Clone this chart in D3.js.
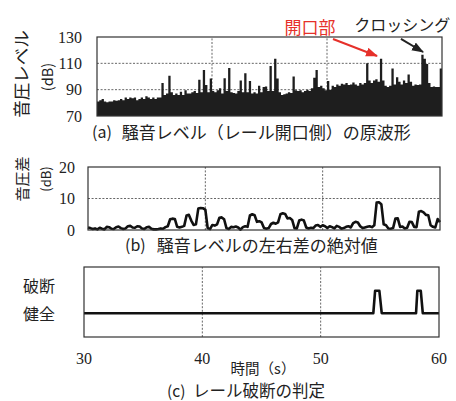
<!DOCTYPE html>
<html>
<head>
<meta charset="utf-8">
<script src="https://cdn.jsdelivr.net/npm/d3@7"></script>
<style>
  body { margin: 0; background: #fff; }
  text { fill: #222; }
</style>
</head>
<body>
<svg id="chart" width="456" height="401"></svg>
<script>
// sampling grid of the waveforms (s)
const T0 = 30, DT = 0.2;

// (a) noise level, rail opening side (dB), one value every 0.2 s from 30 s
const levelA = [
  81, 82, 83, 81, 80.5, 81, 81, 82, 81.5, 82,
  83, 82, 84, 83, 84, 83.5, 84, 82, 83, 84,
  83, 85, 84, 83, 84, 83, 84, 84, 95, 86,
  87, 100.5, 88, 86, 87, 86, 88.5, 86, 89.5, 87,
  87, 88, 89, 87.5, 97.5, 88, 105, 93.5, 88, 98.5,
  89, 88, 89.5, 91, 87, 98.7, 89, 106.5, 88, 87.5,
  87, 89, 97, 88, 102.5, 88, 96.5, 87, 88, 87,
  93, 88, 92, 92.5, 89, 108, 89, 113.5, 98.5, 88,
  86, 86.5, 87, 88, 87.5, 100, 89.5, 89, 89.5, 88,
  89, 90, 89, 91, 99, 105, 92, 93, 91, 89.5,
  96.5, 90, 93, 92, 94, 93, 94.5, 94, 95, 93.5,
  94, 95.5, 94, 93, 95, 94, 95, 110, 97, 95,
  97, 98, 96, 113.5, 97, 93, 92, 93, 106, 94,
  99.5, 96, 94, 97, 95, 101.5, 96, 93, 94, 93.5,
  94, 116.5, 113.5, 109.5, 95, 92, 92.5, 92, 92, 106,
  95
];

// (b) absolute left/right level difference (dB), same grid
const diffB = [
  0.8, 0.6, 0.3, 0.5, 0.2, 0.7, 0.4, 0.2, 1.0, 0.9,
  0.4, 0.3, 0.9, 1.1, 0.6, 0.3, 0.5, 1.2, 1.3, 0.8,
  0.7, 1.2, 1.1, 0.5, 0.3, 0.9, 1.0, 0.4, 0.2, 0.2,
  0.3, 0.5, 0.4, 0.9, 1.2, 3.4, 3.6, 3.5, 1.0, 0.8,
  1.0, 1.3, 4.6, 4.8, 3.0, 1.6, 1.8, 6.8, 7.0, 6.9,
  6.5, 0.6, 0.3, 1.6, 1.4, 1.8, 3.9, 4.0, 3.4, 0.6,
  0.3, 1.0, 0.9, 1.1, 0.8, 0.1, 0.9, 1.2, 1.0, 4.6,
  5.0, 4.7, 2.6, 2.8, 2.4, 0.6, 0.4, 0.6, 1.9, 2.3,
  2.0, 2.4, 5.0, 5.3, 5.1, 3.7, 3.8, 3.2, 0.6, 0.5,
  3.0, 3.3, 3.0, 0.8, 0.5, 0.7, 0.6, 1.4, 1.6, 1.0,
  1.5, 1.2, 0.6, 1.2, 0.9, 0.5, 1.3, 1.0, 0.4, 0.6,
  1.0, 1.2, 0.8, 2.2, 2.6, 2.4, 1.2, 0.6, 0.8, 1.0,
  1.2, 0.9, 1.5, 8.7, 8.8, 8.2, 1.8, 1.5, 0.5, 0.4,
  0.6, 3.6, 3.7, 1.0, 1.1, 0.5, 0.7, 2.6, 2.5, 1.0,
  0.9, 5.8, 6.0, 5.6, 4.8, 4.7, 1.5, 1.0, 0.8, 3.5,
  2.5
];

// (c) break judgement: 0 = 健全, 1 = 破断
const judgeT = [30, 54.45, 54.6, 54.96, 55.16, 58.06, 58.17, 58.46, 58.63, 60];
const judgeS = [0, 0, 1, 1, 0, 0, 1, 1, 0, 0];
const stateLabels = ["健全", "破断"];

const xTicks = [30, 40, 50, 60];
const yTicksA = [70, 90, 110, 130];
const yTicksB = [0, 10, 20];

// annotations in panel (a) data coordinates: label pos, arrow start, arrow tip
const notes = [
  { text: "開口部", color: "#e6302a", size: 17, tx: 48.52, ty: 137.6, x1: 50.52, y1: 128.5, x2: 54.35, y2: 115.6 },
  { text: "クロッシング", color: "#222", size: 16, tx: 56.55, ty: 139.9, x1: 56.43, y1: 128.5, x2: 58.35, y2: 118.6 }
];

const JP = "'Noto Sans CJK JP', 'Noto Sans', sans-serif";
const SERIF = "'Liberation Serif', 'DejaVu Serif', serif";

const svg = d3.select("#chart");

const xA = d3.scaleLinear().domain([30, 60]).range([97, 442]);
const yA = d3.scaleLinear().domain([70, 130]).range([116, 37]);
const xB = d3.scaleLinear().domain([30, 60]).range([88, 440]);
const yB = d3.scaleLinear().domain([0, 20]).range([230, 167]);
const xC = d3.scaleLinear().domain([30, 60]).range([84, 439]);
const yC = d3.scaleLinear().domain([-1.06, 2.06]).range([337, 267]);

function grid(x, y, hLines, vLines) {
  const g = svg.append("g")
    .attr("stroke", "#555")
    .attr("stroke-width", 0.9)
    .attr("stroke-dasharray", "2,1.6");
  g.selectAll(".v").data(vLines).enter().append("line")
    .attr("x1", d => x(d)).attr("x2", d => x(d))
    .attr("y1", y.range()[0]).attr("y2", y.range()[1]);
  g.selectAll(".h").data(hLines).enter().append("line")
    .attr("y1", d => y(d)).attr("y2", d => y(d))
    .attr("x1", x.range()[0]).attr("x2", x.range()[1]);
}

function frame(x, y) {
  svg.append("rect")
    .attr("x", x.range()[0]).attr("y", y.range()[1])
    .attr("width", x.range()[1] - x.range()[0])
    .attr("height", y.range()[0] - y.range()[1])
    .attr("fill", "none")
    .attr("stroke", "#333")
    .attr("stroke-width", 1.2);
}

function caption(tag, body, xTag, xBody, yMid, size) {
  svg.append("text").text(tag)
    .attr("x", xTag).attr("y", yMid)
    .attr("dominant-baseline", "central")
    .style("font-family", JP).style("font-size", (size - 1) + "px");
  svg.append("text").text(body)
    .attr("x", xBody).attr("y", yMid)
    .attr("dominant-baseline", "central")
    .style("font-family", JP).style("font-size", size + "px");
}

function vLabel(txt, x, y, size) {
  svg.append("text").text(txt)
    .attr("transform", "translate(" + x + "," + y + ") rotate(-90)")
    .attr("text-anchor", "middle")
    .attr("dominant-baseline", "central")
    .style("font-family", JP).style("font-size", size + "px");
}

// ---------- panel (a)
grid(xA, yA, [90, 110], [40, 50]);

const area = d3.area()
  .x((d, i) => xA(T0 + i * DT))
  .y0(yA(70))
  .y1(d => yA(d))
  .curve(d3.curveStepAfter);

svg.append("path")
  .datum(levelA)
  .attr("d", area)
  .attr("fill", "#1e1e1e");

frame(xA, yA);

svg.selectAll(".tickA").data(yTicksA).enter().append("text")
  .text(d => d)
  .attr("x", xA.range()[0] - 15)
  .attr("y", d => yA(d))
  .attr("text-anchor", "end")
  .attr("dominant-baseline", "central")
  .style("font-family", SERIF).style("font-size", "16px");

vLabel("音圧レベル", 20, 74, 17.5);
vLabel("(dB)", 46, 77, 14.5);

// arrows + notes
const defs = svg.append("defs");
notes.forEach((n, i) => {
  defs.append("marker")
    .attr("id", "arr" + i)
    .attr("markerUnits", "userSpaceOnUse")
    .attr("markerWidth", 12).attr("markerHeight", 10)
    .attr("refX", 11).attr("refY", 4.5)
    .attr("orient", "auto")
    .append("path")
    .attr("d", "M0,0 L12,4.5 L0,9 Z")
    .attr("fill", n.color);

  svg.append("line")
    .attr("x1", xA(n.x1)).attr("y1", yA(n.y1))
    .attr("x2", xA(n.x2)).attr("y2", yA(n.y2))
    .attr("stroke", n.color)
    .attr("stroke-width", 2)
    .attr("marker-end", "url(#arr" + i + ")");

  svg.append("text").text(n.text)
    .attr("x", xA(n.tx)).attr("y", yA(n.ty))
    .attr("text-anchor", "middle")
    .attr("dominant-baseline", "central")
    .style("fill", n.color)
    .style("font-family", JP).style("font-size", n.size + "px");
});

caption("(a)", "騒音レベル（レール開口側）の原波形", 92, 121.7, 131, 17);

// ---------- panel (b)
grid(xB, yB, [10], [40, 50]);

const lineB = d3.line()
  .x((d, i) => xB(T0 + i * DT))
  .y(d => yB(d));

svg.append("path")
  .datum(diffB)
  .attr("d", lineB)
  .attr("fill", "none")
  .attr("stroke", "#111")
  .attr("stroke-width", 2.6)
  .attr("stroke-linejoin", "round");

frame(xB, yB);

svg.selectAll(".tickB").data(yTicksB).enter().append("text")
  .text(d => d)
  .attr("x", xB.range()[0] - 13)
  .attr("y", d => yB(d))
  .attr("text-anchor", "end")
  .attr("dominant-baseline", "central")
  .style("font-family", SERIF).style("font-size", "16px");

vLabel("音圧差", 21, 179, 15);
vLabel("(dB)", 45, 179, 13);

caption("(b)", "騒音レベルの左右差の絶対値", 125, 156.7, 244, 17);

// ---------- panel (c)
grid(xC, yC, [], [40, 50]);

svg.append("path")
  .datum(judgeT.map((t, i) => [t, judgeS[i]]))
  .attr("d", d3.line().x(d => xC(d[0])).y(d => yC(d[1])))
  .attr("fill", "none")
  .attr("stroke", "#111")
  .attr("stroke-width", 2.6)
  .attr("stroke-linejoin", "round");

frame(xC, yC);

svg.selectAll(".stateLab").data(stateLabels).enter().append("text")
  .text(d => d)
  .attr("x", 39)
  .attr("y", (d, i) => yC(i) - (i ? 5.5 : 0.5))
  .attr("text-anchor", "middle")
  .attr("dominant-baseline", "central")
  .style("font-family", JP).style("font-size", "16px");

svg.selectAll(".tickC").data(xTicks).enter().append("text")
  .text(d => d)
  .attr("x", d => xC(d))
  .attr("y", 358.5)
  .attr("text-anchor", "middle")
  .attr("dominant-baseline", "central")
  .style("font-family", SERIF).style("font-size", "16px");

svg.append("text").text("時間（s）")
  .attr("x", 263).attr("y", 367.5)
  .attr("text-anchor", "middle")
  .attr("dominant-baseline", "central")
  .style("font-family", JP).style("font-size", "14.5px");

caption("(c)", "レール破断の判定", 167, 193, 389.5, 16.5);
</script>
</body>
</html>
